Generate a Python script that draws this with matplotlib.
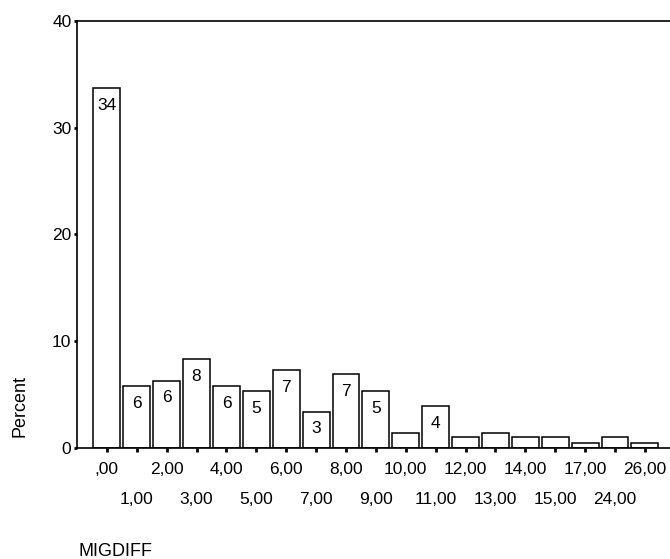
import numpy as np
import matplotlib.pyplot as plt

plt.rcParams['font.family'] = ['Liberation Sans', 'DejaVu Sans']

# MIGDIFF categories and percent per category
categories = [',00', '1,00', '2,00', '3,00', '4,00', '5,00', '6,00', '7,00', '8,00', '9,00',
              '10,00', '11,00', '12,00', '13,00', '14,00', '15,00', '17,00', '24,00', '26,00']
percent = [33.7, 5.8, 6.3, 8.3, 5.8, 5.3, 7.3, 3.4, 6.9, 5.3,
           1.4, 3.9, 1.0, 1.4, 1.0, 1.0, 0.5, 1.0, 0.5]


def main():
    fig = plt.figure(figsize=(6.7, 5.59), dpi=100)
    ax = fig.add_axes([77 / 670, 111 / 559, 1 - 77 / 670, (448 - 20.7) / 559])

    x = np.arange(len(categories))
    bars = ax.bar(x, percent, width=0.9, color='white', edgecolor='black', linewidth=1.1)

    # value labels inside the top of each bar (only the bigger ones)
    for b, v in zip(bars, percent):
        if round(v) >= 3:
            ax.annotate(f'{round(v):d}', (b.get_x() + b.get_width() / 2, v),
                        xytext=(0, -12.3), textcoords='offset points',
                        ha='center', va='center', fontsize=12.5)

    ax.set_ylim(0, 40)
    ax.set_xlim(-1.0, 18.84)
    ax.set_yticks([0, 10, 20, 30, 40])
    ax.set_xticks(x)
    ax.set_xticklabels(categories, fontsize=12.5)
    ax.tick_params(axis='y', labelsize=12.5, length=2, width=2, pad=2)
    ax.tick_params(axis='x', length=3, width=2, pad=7)
    # alternate two rows of tick labels
    for i, t in enumerate(ax.xaxis.get_major_ticks()):
        if i % 2 == 1:
            t.set_pad(29)

    for s in ['left', 'bottom', 'top']:
        ax.spines[s].set_linewidth(1.2)
    ax.spines['right'].set_visible(False)

    fig.text(20 / 670, 1 - 406 / 559, 'Percent', rotation=90, ha='center', va='center', fontsize=13)
    fig.text(79 / 670, 1 - 551 / 559, 'MIGDIFF', ha='left', va='center', fontsize=13)

    fig.savefig('out.png', dpi=100)


if __name__ == "__main__":
    main()
